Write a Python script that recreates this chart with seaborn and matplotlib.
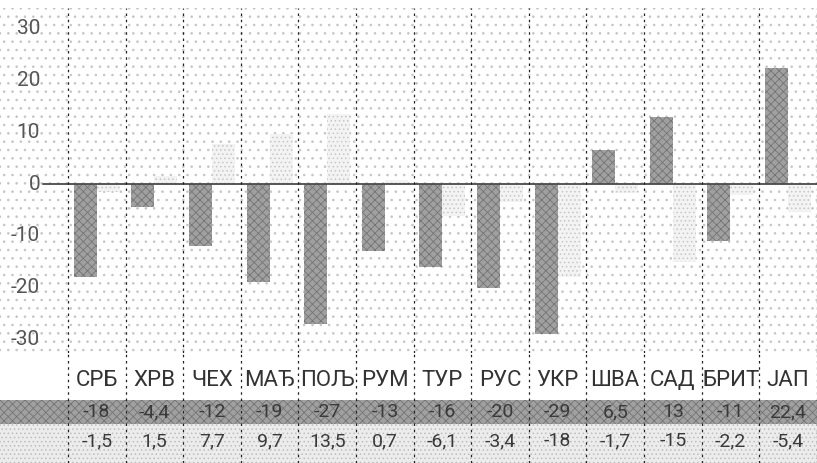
import numpy as np
import pandas as pd
import matplotlib
matplotlib.use('Agg')
import matplotlib.pyplot as plt
from matplotlib.patches import Rectangle
import seaborn as sns

# подаци
countries = ['СРБ', 'ХРВ', 'ЧЕХ', 'МАЂ', 'ПОЉ', 'РУМ', 'ТУР', 'РУС', 'УКР', 'ШВА', 'САД', 'БРИТ', 'ЈАП']
dark_vals = [-18, -4.4, -12, -19, -27, -13, -16, -20, -29, 6.5, 13, -11, 22.4]
light_vals = [-1.5, 1.5, 7.7, 9.7, 13.5, 0.7, -6.1, -3.4, -18, -1.7, -15, -2.2, -5.4]
series = ['s1', 's2']
yticks = [-30, -20, -10, 0, 10, 20, 30]

sns.set_style('white')
plt.rcParams['font.family'] = ['Roboto', 'DejaVu Sans']
plt.rcParams['hatch.linewidth'] = 0.6

df = pd.DataFrame({
    'country': countries * 2,
    'value': dark_vals + light_vals,
    'series': [series[0]] * len(countries) + [series[1]] * len(countries),
})

W, H = 817, 463
fig = plt.figure(figsize=(W / 100, H / 100), dpi=100)

# геометрија у пикселима
x0, step = 68, 57.6
px2x = lambda p: -0.5 + (p - x0) / step
zero_px, scale = 184, 5.18
top_px, bot_px = 8, 353

ax = fig.add_axes([0, (H - bot_px) / H, 1, (bot_px - top_px) / H])
ax.add_patch(Rectangle((0, 0), 1, 1, transform=ax.transAxes, facecolor='white',
                       edgecolor='#c4c4c4', hatch='..', lw=0, zorder=0))

sns.barplot(data=df, x='country', y='value', hue='series', hue_order=series,
            order=countries, width=0.8, ax=ax, legend=False, zorder=3)
styles = [('#a0a0a0', '#747474', 'xxxx'), ('#f3f3f3', '#c6c6c6', '....')]
for cont, (fc, ec, ht) in zip(ax.containers, styles):
    for bar in cont:
        bar.set_facecolor(fc)
        bar.set_edgecolor(ec)
        bar.set_hatch(ht)
        bar.set_linewidth(0)

ax.set_xlim(px2x(0), px2x(W))
ax.set_ylim(-(bot_px - zero_px) / scale, (zero_px - top_px) / scale)
ax.set_xticks([])
ax.set_yticks([])
ax.set_xlabel('')
ax.set_ylabel('')
for s in ax.spines.values():
    s.set_visible(False)

ax.plot([px2x(43), px2x(W)], [0, 0], color='#4a4a4a', lw=1.3, zorder=4)
for t in yticks:
    ax.text(px2x(40), t, str(t), ha='right', va='center', fontsize=15, color='#555555')

# табела са подацима
tab = fig.add_axes([0, 0, 1, (H - bot_px) / H])
tab.set_xlim(px2x(0), px2x(W))
tab.set_ylim(H, bot_px)
tab.axis('off')
tab.add_patch(Rectangle((px2x(0), 400), px2x(W) - px2x(0), 24, facecolor='#a0a0a0',
                        edgecolor='#747474', hatch='xxxx', lw=0, zorder=0))
tab.add_patch(Rectangle((px2x(0), 424), px2x(W) - px2x(0), H - 424, facecolor='#ececec',
                        edgecolor='#bdbdbd', hatch='....', lw=0, zorder=0))

fmt = lambda v: f'{v:g}'.replace('.', ',')
for i, c in enumerate(countries):
    tab.text(i, 381, c, ha='center', va='center', fontsize=16, color='#333333')
    tab.text(i, 412, fmt(dark_vals[i]), ha='center', va='center', fontsize=14, color='#3a3a3a')
    tab.text(i, 441, fmt(light_vals[i]), ha='center', va='center', fontsize=14, color='#3a3a3a')

# испрекидане вертикалне линије
for k in range(len(countries) + 1):
    for a in (ax, tab):
        a.axvline(k - 0.5, color='#222222', lw=0.9, ls=(0, (2, 3)), zorder=5)

fig.savefig('out.png', dpi=100)
